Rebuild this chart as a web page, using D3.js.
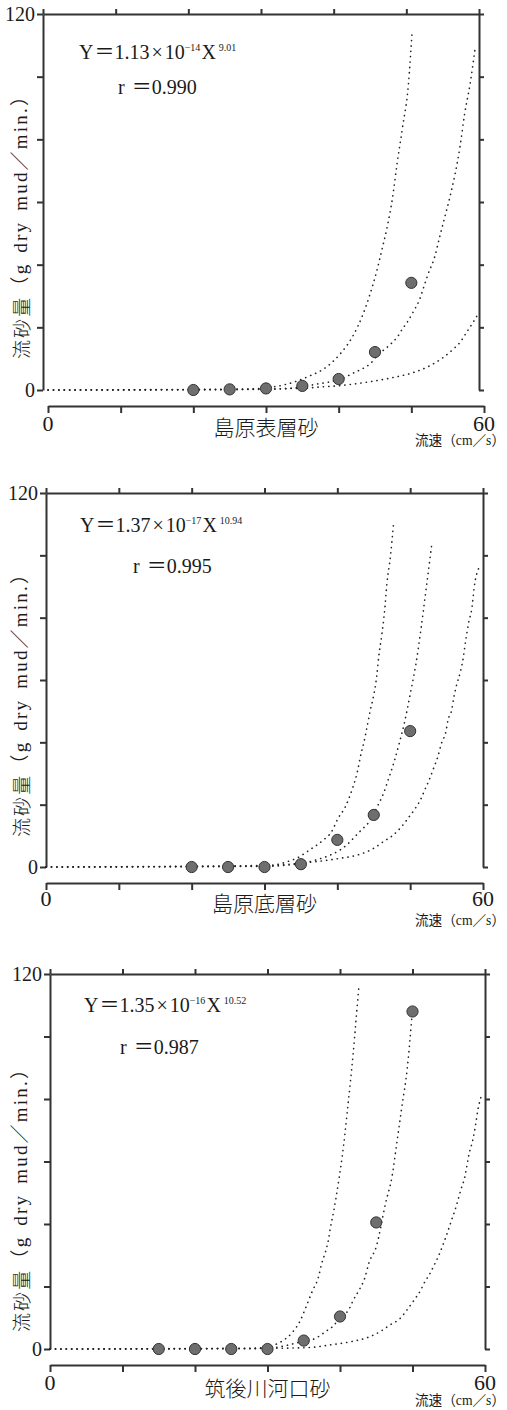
<!DOCTYPE html>
<html>
<head>
<meta charset="utf-8">
<script src="https://cdn.jsdelivr.net/npm/d3@7"></script>
<style>
body { margin: 0; background: #fff; }
text { font-family: "Liberation Serif", "Noto Sans CJK JP", serif; fill: #1a1a1a; }
.jp { font-family: "Noto Sans CJK JP", sans-serif; font-weight: 300; }
.domain, .tick line { stroke: #333; stroke-width: 2; }
.ylabel { opacity: 0.99; }
</style>
</head>
<body>
<svg id="chart" width="507" height="1410"></svg>
<script>
// 表記
const sample_names = ["島原表層砂", "島原底層砂", "筑後川河口砂"];
const coef_text = ["1.13", "1.37", "1.35"];
const coef_exp = ["−14", "−17", "−16"];
const power_text = ["9.01", "10.94", "10.52"];
const r_text = ["0.990", "0.995", "0.987"];
const y_ticks = [0, 20, 40, 60, 80, 100, 120];
const x_ticks = [0, 10, 20, 30, 40, 50, 60];

// 実測値 (流速 cm/s, 流砂量)
const speed_a = [20, 25, 30, 35, 40, 45, 50];
const sand_a = [0, 0.2, 0.5, 1.3, 3.5, 12.1, 34.2];
const speed_b = [20, 25, 30, 35, 40, 45, 50];
const sand_b = [0, 0, 0, 0.9, 8.7, 16.7, 43.6];
const speed_c = [15, 20, 25, 30, 35, 40, 45, 50];
const sand_c = [0, 0, 0, 0, 2.7, 10.4, 40.5, 108];

// 回帰曲線と上下の曲線
const fit_a_x = [0, 30, 35, 37, 38.6, 40.3, 42.2, 43.6, 44.4, 45.3, 46.6, 47.4, 48.1, 48.7, 49.5, 50.3, 51.1, 51.7, 52.3, 53.2, 53.8, 54.5, 55.3, 56.0, 56.7, 57.3, 58.1, 58.8];
const fit_a_y = [0, 0.2, 1.0, 1.9, 2.5, 3.5, 5.6, 7.2, 8.5, 11.0, 13.5, 15.2, 17.0, 19.2, 21.9, 25.1, 28.7, 32.8, 37.0, 42.4, 47.9, 54.3, 61.5, 68.7, 77.7, 87.6, 97.9, 109.4];
const up_a_x = [0, 25, 30, 32.4, 34.2, 36, 37.8, 40.2, 41.9, 43.4, 44.3, 45.2, 45.9, 46.7, 47.4, 48.0, 48.8, 49.6, 50.1];
const up_a_y = [0, 0.1, 0.7, 1.6, 2.8, 4.5, 6.5, 11.5, 17, 24.5, 30.5, 37.6, 44.3, 52.3, 61.2, 71.6, 84.0, 97.6, 114.2];
const low_a_x = [0, 35, 37, 40.2, 43.9, 47.1, 50.3, 52.6, 54.4, 55.8, 56.7, 57.6, 58.5, 59.2];
const low_a_y = [0, 0.5, 0.9, 1.4, 2.5, 3.8, 5.6, 7.8, 10.4, 13.1, 15.2, 18.4, 21.6, 24.3];

const fit_b_x = [0, 30, 35.6, 37.4, 39, 40.4, 41.3, 42.2, 43.3, 44.2, 44.9, 45.6, 46.3, 47.0, 47.8, 48.5, 49.3, 50.0, 50.8, 51.5, 52.2, 53.0];
const fit_b_y = [0, 0.2, 1.4, 2.5, 3.8, 5.5, 7.1, 9.2, 11.9, 14.0, 16.7, 19.9, 23.4, 28.1, 33.8, 39.7, 47.2, 55.4, 65.3, 76.6, 89.4, 104.2];
const up_b_x = [0, 30, 33.5, 34.4, 36.2, 38.1, 39.2, 40.1, 41.1, 42.0, 42.7, 43.3, 43.7, 44.1, 44.5, 45.0, 45.4, 45.7, 46.1, 46.5, 46.8, 47.3, 47.7];
const up_b_y = [0, 0.3, 2.0, 2.8, 5.5, 8.7, 11.3, 15.6, 19.3, 24.7, 30.1, 36.8, 40.5, 45.2, 50.0, 55.2, 61.1, 67.8, 74.4, 82.5, 90.8, 99.8, 109.7];
const low_b_x = [0, 30, 35.8, 38.1, 40.4, 42.7, 45.0, 46.3, 47.7, 48.8, 49.7, 50.7, 51.4, 52.0, 52.6, 53.3, 53.8, 54.3, 54.9, 55.2, 55.7, 56.0, 56.4, 56.9, 57.3, 57.6, 58.0, 58.5, 58.8, 59.4];
const low_b_y = [0, 0.5, 1.4, 2.0, 2.8, 3.8, 6.0, 8.1, 10.3, 12.9, 15.6, 18.8, 21.5, 24.7, 27.9, 32.2, 35.4, 39.7, 43.4, 47.2, 50.4, 54.6, 58.6, 62.7, 67.3, 72.3, 78.0, 83.5, 89.9, 95.8];

const fit_c_x = [0, 30, 35, 36.6, 37.5, 38.2, 39.1, 39.8, 41.3, 41.8, 42.6, 43.4, 44.0, 45.0, 46.3, 47.2, 47.8, 48.5, 49.3, 49.9];
const fit_c_y = [0, 0.3, 2.5, 3.4, 4.7, 5.9, 7.4, 9.5, 13.0, 15.5, 18.7, 22.6, 27.6, 32.7, 46.8, 55.5, 65.3, 77.0, 90.3, 106];
const up_c_x = [0, 28, 30, 32, 33.5, 34.5, 35.4, 36.2, 37.0, 37.5, 38.0, 38.4, 38.7, 39.1, 39.5, 39.9, 40.3, 40.65, 41.0, 41.4, 41.8, 42.2, 42.6];
const up_c_y = [0, 0.1, 0.7, 2.5, 5.5, 9, 14, 18.6, 22.8, 27.6, 31.1, 34.9, 39.1, 43.7, 49.1, 55.1, 61.5, 68.3, 75.9, 84.7, 94.1, 105.0, 115.9];
const low_c_x = [0, 30, 35.9, 38.6, 41.4, 43.7, 45.5, 46.9, 48.3, 49.4, 50.3, 51.1, 51.7, 52.3, 53.0, 53.6, 54.2, 54.7, 55.5, 55.9, 56.3, 56.7, 57.2, 57.5, 57.8, 58.3, 58.7, 59.0, 59.5];
const low_c_y = [0, 0.2, 0.5, 1.3, 2.3, 3.6, 5.5, 7.7, 9.8, 13.0, 15.9, 18.7, 21.5, 23.7, 26.9, 29.8, 33.3, 36.5, 42.0, 44.7, 47.9, 51.2, 54.9, 58.6, 62.4, 66.7, 71.7, 76.3, 81];

// 各パネルの配置
const layout = [
    { top: 14, zero: 390, x0: 48, x1: 484, f0: 43, f1: 479, axisY: 406, eq: [79, 59], r: [118, 94], ylab: 222, numY: 423, subY: 435, unitY: 445 },
    { top: 493, zero: 867, x0: 46, x1: 483, f0: 46, f1: 483, axisY: 883, eq: [80, 532], r: [133, 573], ylab: 700, numY: 898, subY: 911, unitY: 925 },
    { top: 974, zero: 1349, x0: 50, x1: 485, f0: 50, f1: 485, axisY: 1365, eq: [84, 1012], r: [120, 1054], ylab: 1195, numY: 1382, subY: 1396, unitY: 1405 }
];

const points = [d3.zip(speed_a, sand_a), d3.zip(speed_b, sand_b), d3.zip(speed_c, sand_c)];
const curves = [
    [d3.zip(up_a_x, up_a_y), d3.zip(fit_a_x, fit_a_y), d3.zip(low_a_x, low_a_y)],
    [d3.zip(up_b_x, up_b_y), d3.zip(fit_b_x, fit_b_y), d3.zip(low_b_x, low_b_y)],
    [d3.zip(up_c_x, up_c_y), d3.zip(fit_c_x, fit_c_y), d3.zip(low_c_x, low_c_y)]
];

var svg = d3.select("#chart");

layout.forEach(function (p, i) {
    var g = svg.append("g").attr("class", "panel");

    var x = d3.scaleLinear().domain([0, 60]).range([p.x0, p.x1]);
    var fx = d3.scaleLinear().domain([0, 60]).range([p.f0, p.f1]);
    var y = d3.scaleLinear().domain([0, 120]).range([p.zero, p.top]);

    // 枠 (左・上・右)
    g.append("g")
        .attr("transform", `translate(${p.f0},0)`)
        .call(d3.axisLeft(y).tickValues(y_ticks).tickSize(6).tickSizeOuter(0)
            .tickPadding(2)
            .tickFormat(d => (d === 0 || d === 120) ? d : ""))
        .call(a => a.selectAll("text").attr("font-size", 20).attr("fill", "#1a1a1a")
            .style("font-family", "Liberation Serif"));
    g.append("g")
        .attr("transform", `translate(${p.f1},0)`)
        .call(d3.axisRight(y).tickValues(y_ticks).tickSize(5).tickSizeOuter(0).tickFormat(""));
    g.append("g")
        .attr("transform", `translate(0,${p.top})`)
        .call(d3.axisTop(fx).tickValues(x_ticks).tickSize(5).tickSizeOuter(0).tickFormat(""));

    // 下の軸
    g.append("g")
        .attr("transform", `translate(0,${p.axisY})`)
        .call(d3.axisBottom(x).tickValues(x_ticks).tickSize(7).tickSizeOuter(0).tickFormat(""))
        .call(a => a.select(".domain").attr("stroke-width", 2.6).attr("stroke", "#555"));

    g.selectAll(".xnum")
        .data([0, 60])
        .enter().append("text")
        .attr("x", d => x(d))
        .attr("y", p.numY)
        .attr("text-anchor", "middle")
        .attr("dominant-baseline", "central")
        .attr("font-size", 22)
        .text(d => d);

    // 曲線
    var line = d3.line()
        .x(d => x(d[0]))
        .y(d => y(d[1]))
        .curve(d3.curveMonotoneX);
    g.selectAll(".curve")
        .data(curves[i])
        .enter().append("path")
        .attr("class", "curve")
        .attr("d", line)
        .attr("fill", "none")
        .attr("stroke", "#222")
        .attr("stroke-width", 1.6)
        .attr("stroke-linecap", "round")
        .attr("stroke-dasharray", "0.2,5.2");

    // 測定点
    g.selectAll(".pt")
        .data(points[i])
        .enter().append("circle")
        .attr("class", "pt")
        .attr("cx", d => x(d[0]))
        .attr("cy", d => y(d[1]))
        .attr("r", 5.6)
        .attr("fill", "#6e6e6e")
        .attr("stroke", "#333")
        .attr("stroke-width", 1);

    // 回帰式
    var eq = g.append("text")
        .attr("x", p.eq[0])
        .attr("y", p.eq[1])
        .attr("font-size", 20);
    eq.append("tspan").text("Y");
    eq.append("tspan").attr("dx", 1).text("＝");
    eq.append("tspan").text(coef_text[i]);
    eq.append("tspan").attr("dx", 2).text("×");
    eq.append("tspan").attr("dx", 2).text("10");
    eq.append("tspan").attr("font-size", 10).attr("dy", -8).text(coef_exp[i]);
    eq.append("tspan").attr("dy", 8).attr("dx", 1).text("X");
    eq.append("tspan").attr("font-size", 10).attr("dy", -8).attr("dx", 3).text(power_text[i]);

    var rt = g.append("text")
        .attr("x", p.r[0])
        .attr("y", p.r[1])
        .attr("font-size", 20);
    rt.append("tspan").text("r");
    rt.append("tspan").attr("dx", 7).text("＝");
    rt.append("tspan").text(r_text[i]);

    // 軸タイトル
    var yl = g.append("text")
        .attr("class", "ylabel")
        .attr("transform", `translate(20,${p.ylab}) rotate(-90)`)
        .attr("text-anchor", "middle")
        .attr("dominant-baseline", "central")
        .attr("font-size", 19)
        .attr("letter-spacing", 2.2)
        .attr("word-spacing", 3);
    yl.append("tspan").attr("class", "jp").text("流砂量");
    yl.append("tspan").text("（g dry mud／min.）");

    g.append("text")
        .attr("class", "jp")
        .attr("x", (x(0) + x(60)) / 2)
        .attr("y", p.subY)
        .attr("text-anchor", "middle")
        .attr("font-size", 21)
        .text(sample_names[i]);

    g.append("text")
        .attr("x", 415)
        .attr("y", p.unitY)
        .attr("font-size", 14)
        .attr("textLength", 90)
        .attr("lengthAdjust", "spacingAndGlyphs")
        .text("流速（cm／s）");
});
</script>
</body>
</html>
